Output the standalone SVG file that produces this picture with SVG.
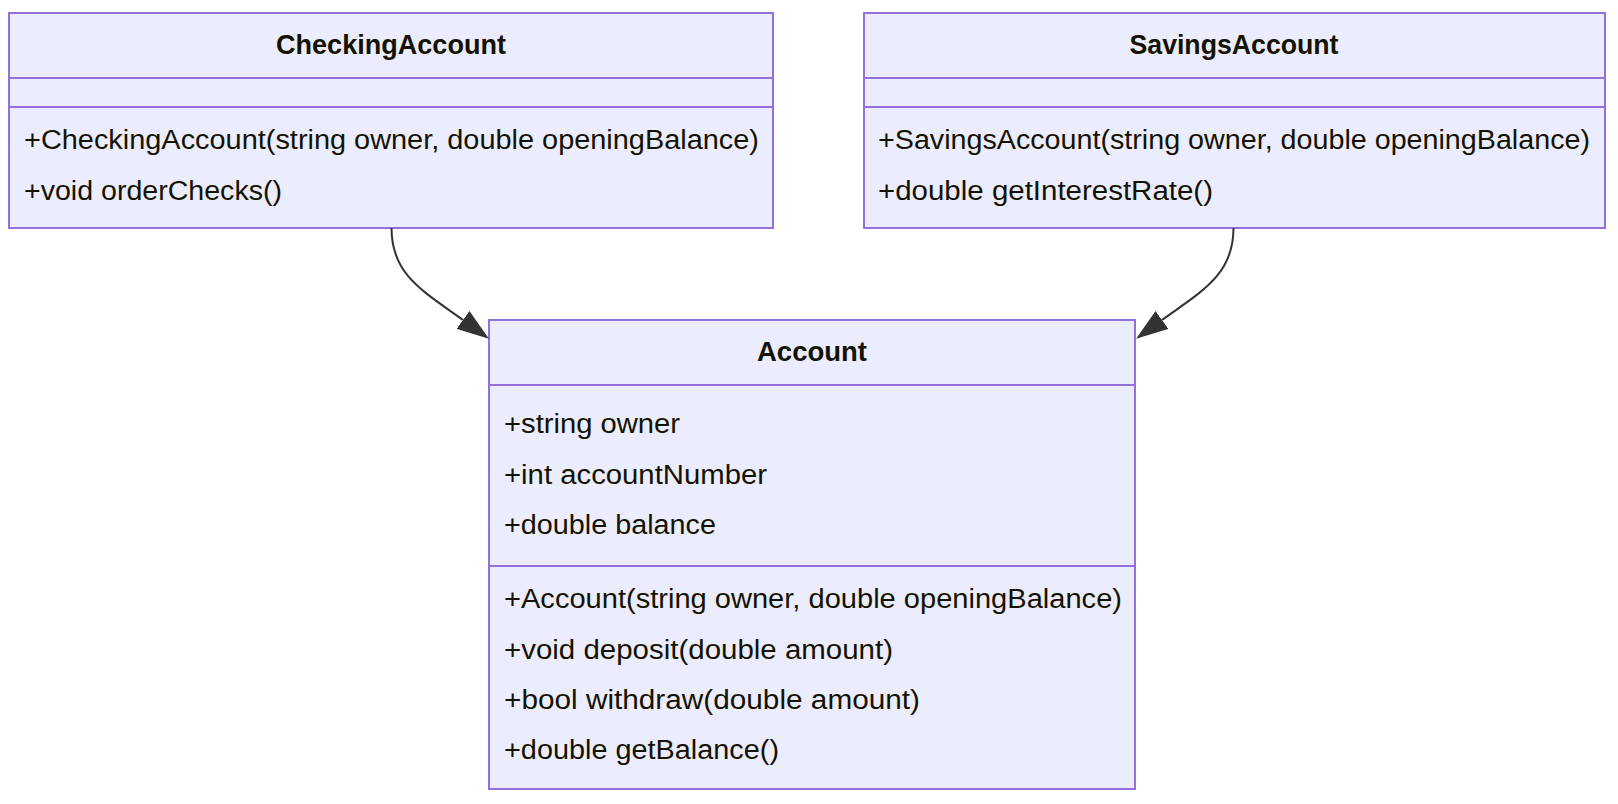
<svg xmlns="http://www.w3.org/2000/svg" width="1618" height="804" viewBox="0 0 1618 804">
<style>
.box{fill:#ECECFF;stroke:#9370DB;stroke-width:2}
.div{stroke:#9370DB;stroke-width:2}
.t{font-family:"Liberation Sans",Arial,sans-serif;font-size:27px;fill:#131300}
.b{font-weight:bold;text-anchor:middle}
.edge{fill:none;stroke:#333333;stroke-width:2}
</style>
<defs>
<marker id="arr" markerUnits="userSpaceOnUse" viewBox="0 0 32 22" markerWidth="32" markerHeight="22" refX="0" refY="11" orient="auto">
<path d="M0,0 L32,11 L0,22 z" fill="#333333"/>
</marker>
</defs>
<rect width="1618" height="804" fill="#ffffff"/>
<g id="CheckingAccount">
<rect class="box" x="9" y="13" width="764" height="215"/>
<line class="div" x1="9" y1="78" x2="773" y2="78"/>
<line class="div" x1="9" y1="107" x2="773" y2="107"/>
<text class="t b" x="391" y="54" textLength="230" lengthAdjust="spacingAndGlyphs">CheckingAccount</text>
<text class="t" x="24" y="149" textLength="735" lengthAdjust="spacingAndGlyphs">+CheckingAccount(string owner, double openingBalance)</text>
<text class="t" x="24" y="200" textLength="258" lengthAdjust="spacingAndGlyphs">+void orderChecks()</text>
</g>
<g id="SavingsAccount">
<rect class="box" x="864" y="13" width="741" height="215"/>
<line class="div" x1="864" y1="78" x2="1605" y2="78"/>
<line class="div" x1="864" y1="107" x2="1605" y2="107"/>
<text class="t b" x="1234" y="54" textLength="209" lengthAdjust="spacingAndGlyphs">SavingsAccount</text>
<text class="t" x="878" y="149" textLength="712" lengthAdjust="spacingAndGlyphs">+SavingsAccount(string owner, double openingBalance)</text>
<text class="t" x="878" y="200" textLength="335" lengthAdjust="spacingAndGlyphs">+double getInterestRate()</text>
</g>
<g id="Account">
<rect class="box" x="489" y="320" width="646" height="469"/>
<line class="div" x1="489" y1="385" x2="1135" y2="385"/>
<line class="div" x1="489" y1="566" x2="1135" y2="566"/>
<text class="t b" x="812" y="361" textLength="110" lengthAdjust="spacingAndGlyphs">Account</text>
<text class="t" x="504" y="433" textLength="176" lengthAdjust="spacingAndGlyphs">+string owner</text>
<text class="t" x="504" y="484" textLength="263" lengthAdjust="spacingAndGlyphs">+int accountNumber</text>
<text class="t" x="504" y="534" textLength="212" lengthAdjust="spacingAndGlyphs">+double balance</text>
<text class="t" x="504" y="608" textLength="618" lengthAdjust="spacingAndGlyphs">+Account(string owner, double openingBalance)</text>
<text class="t" x="504" y="659" textLength="389" lengthAdjust="spacingAndGlyphs">+void deposit(double amount)</text>
<text class="t" x="504" y="709" textLength="416" lengthAdjust="spacingAndGlyphs">+bool withdraw(double amount)</text>
<text class="t" x="504" y="759" textLength="275" lengthAdjust="spacingAndGlyphs">+double getBalance()</text>
</g>
<g id="connectors">
<path class="edge" d="M391.5,228 C391.5,275 423,291 463,320" marker-end="url(#arr)"/>
<path class="edge" d="M1233.5,228 C1233.5,275 1202,291 1162,320" marker-end="url(#arr)"/>
</g>
</svg>
